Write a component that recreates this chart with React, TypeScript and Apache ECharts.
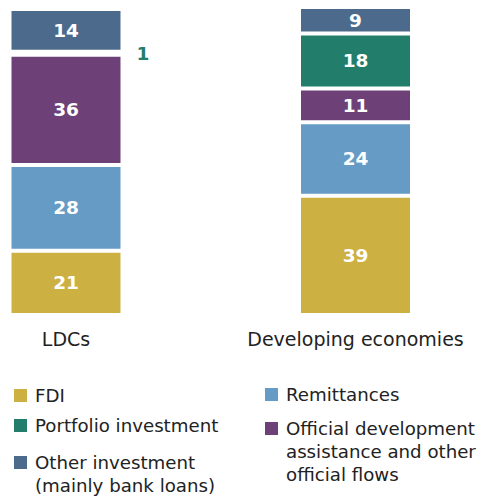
import React, { useEffect, useRef } from "react";
import * as echarts from "echarts";

const categories = ["LDCs", "Developing economies"];
const seriesNames = [
  "FDI",
  "Remittances",
  "Official development assistance and other official flows",
  "Portfolio investment",
  "Other investment (mainly bank loans)",
];
const legendLines = [
  ["FDI"],
  ["Remittances"],
  ["Official development", "assistance and other", "official flows"],
  ["Portfolio investment"],
  ["Other investment", "(mainly bank loans)"],
];
const fdi = [21, 39];
const remittances = [28, 24];
const oda = [36, 11];
const portfolio = [1, 18];
const other = [14, 9];
const colors = ["#CDB042", "#659BC5", "#6D4177", "#227E6B", "#4C6B8C"];

const FONT = "DejaVu Sans";

export default function App() {
  const ref = useRef<HTMLDivElement>(null);
  useEffect(() => {
    if (!ref.current) return;
    const chart = echarts.init(ref.current, undefined, { renderer: "svg" });
    const values = [fdi, remittances, oda, portfolio, other];
    const series = seriesNames.map((name, i) => ({
      name,
      type: "bar",
      stack: "total",
      barWidth: 113,
      itemStyle: { color: colors[i], borderColor: "#ffffff", borderWidth: 2 },
      label: {
        show: true,
        position: "inside",
        color: "#ffffff",
        fontFamily: FONT,
        fontWeight: "bold",
        fontSize: 18.5,
      },
      data: values[i].map((v, j) =>
        i === 3 && j === 0
          ? { value: v, label: { position: "right", distance: 14, color: colors[3] } }
          : v
      ),
    }));
    const lh = 23;
    const legendPos = [
      { left: 14, iconTop: 389 },
      { left: 265, iconTop: 388 },
      { left: 265, iconTop: 422 },
      { left: 14, iconTop: 419 },
      { left: 14, iconTop: 456 },
    ];
    const legend = seriesNames.map((name, i) => {
      const p = legendPos[i];
      const lines = legendLines[i];
      const n = lines.length;
      const text = "\n".repeat(n - 1) + lines.join("\n");
      const blockH = (2 * n - 1) * lh;
      const top = p.iconTop - (blockH / 2 - 6.5);
      return {
        data: [name],
        left: p.left,
        top,
        padding: 0,
        itemWidth: 13,
        itemHeight: 13,
        icon: "rect",
        itemStyle: { borderWidth: 0 },
        selectedMode: false,
        formatter: () => text,
        textStyle: {
          fontFamily: FONT,
          fontSize: 18.2,
          color: "#222222",
          lineHeight: lh,
          padding: [0, 0, 0, 3],
        },
      };
    });
    chart.setOption({
      animation: false,
      grid: { left: 66, width: 289.5, top: 8, height: 307 },
      xAxis: {
        type: "category",
        data: categories,
        boundaryGap: false,
        axisLine: { show: false },
        axisTick: { show: false },
        axisLabel: {
          interval: 0,
          fontFamily: FONT,
          fontSize: 19,
          color: "#222222",
          margin: 14,
        },
      },
      yAxis: { type: "value", min: 0, max: 100.3, show: false, splitLine: { show: false } },
      legend,
      series,
    });
    return () => chart.dispose();
  }, []);
  return (
    <div
      ref={ref}
      style={{ position: "absolute", left: 0, top: 0, width: 479, height: 498 }}
    />
  );
}
